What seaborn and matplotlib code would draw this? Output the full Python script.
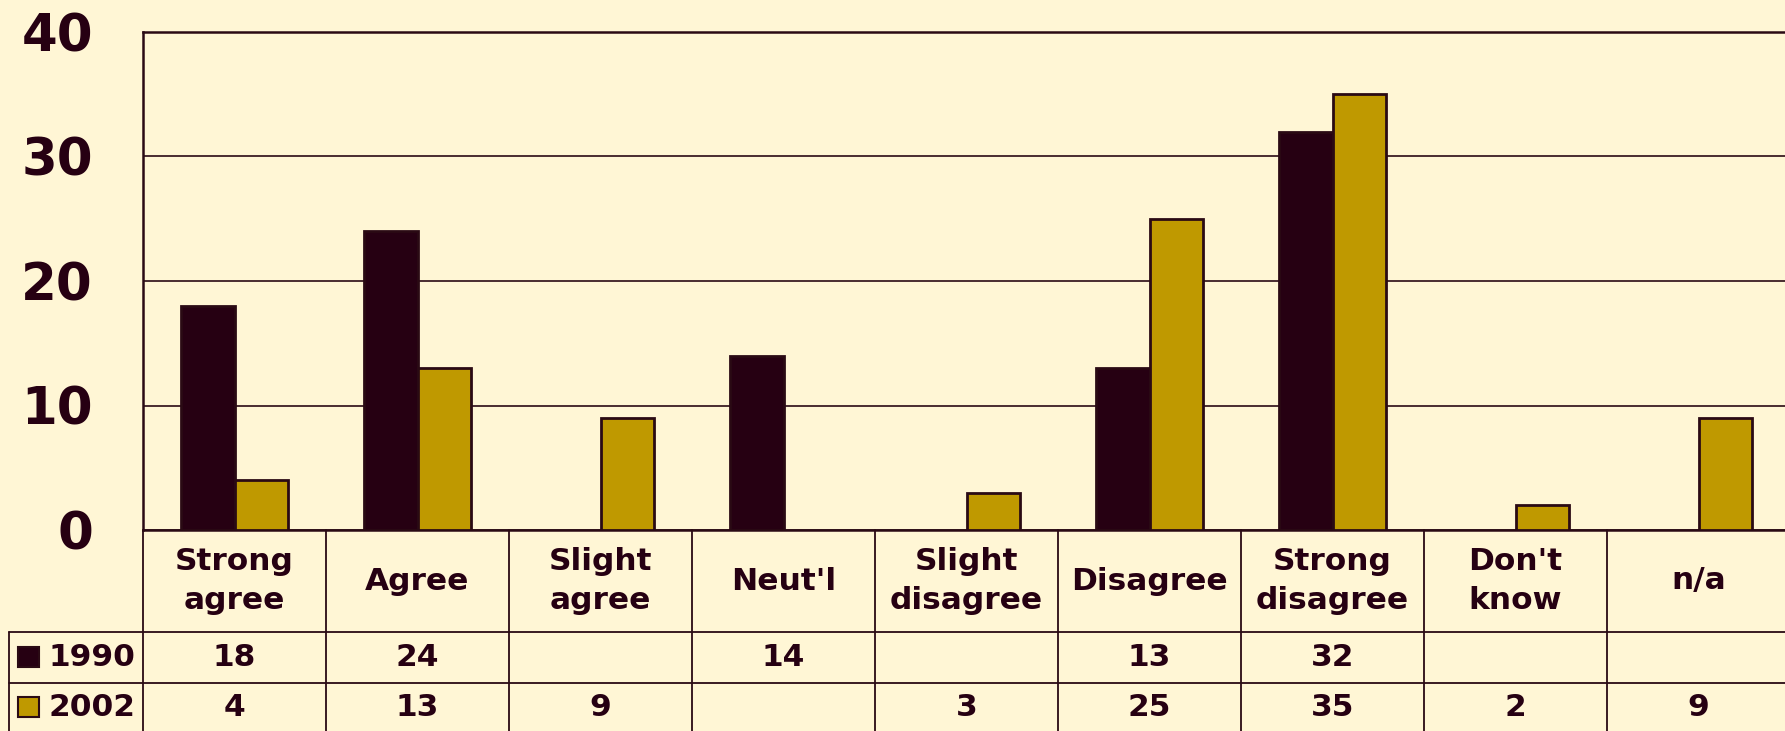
import pandas as pd
import matplotlib
matplotlib.use('Agg')
import matplotlib.pyplot as plt
import matplotlib.transforms as mtransforms
from matplotlib.lines import Line2D
from matplotlib.patches import Rectangle
import seaborn as sns

# Chart data
categories = ["Strong\nagree", "Agree", "Slight\nagree", "Neut'l", "Slight\ndisagree",
              "Disagree", "Strong\ndisagree", "Don't\nknow", "n/a"]
years = ["1990", "2002"]
values_1990 = [18, 24, None, 14, None, 13, 32, None, None]
values_2002 = [4, 13, 9, None, 3, 25, 35, 2, 9]
y_ticks = [0, 10, 20, 30, 40]

BG = '#FFF6D5'
DARK = '#260012'
GOLD = '#BF9900'
LINE = '#2A0A14'

# Long-form frame, missing values dropped
rows = []
for cat, a, b in zip(categories, values_1990, values_2002):
    if a is not None:
        rows.append({'category': cat, 'year': '1990', 'value': a})
    if b is not None:
        rows.append({'category': cat, 'year': '2002', 'value': b})
df = pd.DataFrame(rows)

sns.set_style('white')
plt.rcParams['font.family'] = ['DejaVu Sans']

W, H = 1785, 731
fig = plt.figure(figsize=(W / 100, H / 100), dpi=100, facecolor=BG)
left_px, top_px, bottom_px, col_px = 143, 32, 530, 183
ax = fig.add_axes([left_px / W, 1 - bottom_px / H, 9 * col_px / W, (bottom_px - top_px) / H])
ax.set_facecolor(BG)

sns.barplot(data=df, x='category', y='value', hue='year', order=categories,
            hue_order=years, palette=[DARK, GOLD], saturation=1, width=0.58,
            edgecolor=LINE, linewidth=2, legend=False, ax=ax, zorder=3)

ax.set_xlim(-0.5, len(categories) - 0.5)
ax.set_ylim(0, 40)
ax.set_yticks(y_ticks)
ax.set_xticks([])
ax.set_xlabel('')
ax.set_ylabel('')
ax.yaxis.grid(True, color=LINE, linewidth=1.2, zorder=0)
ax.set_axisbelow(True)
for s in ['left', 'top', 'bottom']:
    ax.spines[s].set_color(LINE)
    ax.spines[s].set_linewidth(1.8)
ax.spines['right'].set_visible(False)
ax.tick_params(axis='y', length=13, width=1.2, color=LINE, pad=23,
               labelsize=37, labelcolor=DARK)
for lab in ax.get_yticklabels():
    lab.set_fontweight('bold')

# Data table below the axes
def fy(py):
    return 1 - py / H

trans = mtransforms.blended_transform_factory(ax.transData, fig.transFigure)
txt_kw = dict(ha='center', va='center', fontsize=22.5, fontweight='bold', color=DARK)

# vertical column lines
for i in range(len(categories) + 1):
    x = i - 0.5
    fig.add_artist(Line2D([x, x], [fy(530), fy(731)], transform=trans, color=LINE, lw=1.3))
# horizontal row lines
for py in [632, 683]:
    fig.add_artist(Line2D([9 / W, 1], [fy(py), fy(py)], transform=fig.transFigure, color=LINE, lw=1.3))
fig.add_artist(Line2D([9 / W, 9 / W], [fy(632), fy(731)], transform=fig.transFigure, color=LINE, lw=1.3))

# header labels
for i, cat in enumerate(categories):
    ax.text(i, fy(581), cat, transform=trans, linespacing=1.4, **txt_kw)

# values rows
for series, py in [(values_1990, 657), (values_2002, 707)]:
    for i, v in enumerate(series):
        if v is not None:
            ax.text(i, fy(py), str(v), transform=trans, **txt_kw)

# row labels with colour keys
for year, color, py in [('1990', DARK, 657), ('2002', GOLD, 707)]:
    fig.add_artist(Rectangle((18 / W, fy(py + 10)), 21 / W, 20 / H, transform=fig.transFigure,
                             facecolor=color, edgecolor=LINE, lw=1.5))
    fig.text(48 / W, fy(py), year, ha='left', va='center', fontsize=22.5,
             fontweight='bold', color=DARK)

fig.savefig('out.png', dpi=100, facecolor=BG)
